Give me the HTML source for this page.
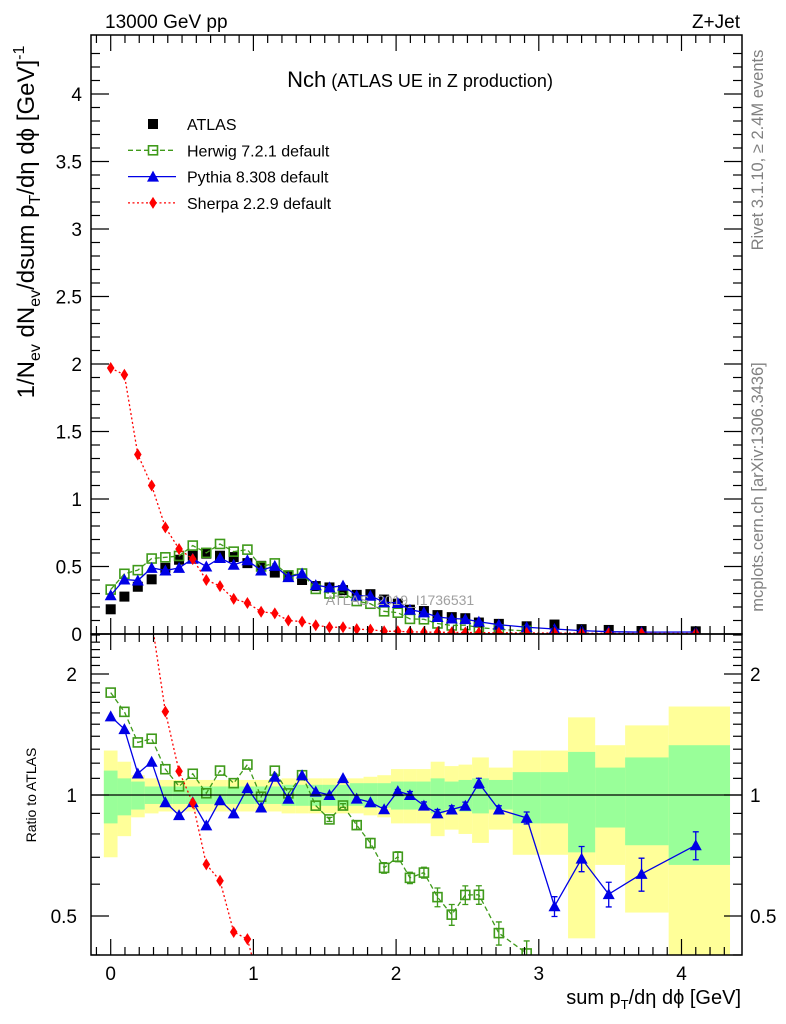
<!DOCTYPE html>
<html><head><meta charset="utf-8">
<style>
html,body{margin:0;padding:0;background:#fff;width:786px;height:1024px;overflow:hidden;}
svg{display:block;font-family:"Liberation Sans",sans-serif;}
</style></head>
<body>
<svg id="chart" width="786" height="1024" viewBox="0 0 786 1024" xmlns="http://www.w3.org/2000/svg">
<defs>
<clipPath id="clipMain"><rect x="91" y="35" width="651" height="599"/></clipPath>
<clipPath id="clipRatio"><rect x="91" y="634" width="651" height="321"/></clipPath>
</defs>
<g id="bands" clip-path="url(#clipRatio)"></g>
<g id="marks"></g>
<g id="axes"></g>
<text x="105" y="28" font-size="19">13000 GeV pp</text>
<text x="740" y="28" font-size="19" text-anchor="end">Z+Jet</text>
<text x="420" y="87" text-anchor="middle"><tspan font-size="22">Nch</tspan><tspan font-size="18"> (ATLAS UE in Z production)</tspan></text>
<text x="400" y="605" font-size="14" fill="#a0a0a0" text-anchor="middle">ATLAS_2019_I1736531</text>
<text transform="translate(763,150) rotate(-90)" font-size="16.5" fill="#808080" text-anchor="middle">Rivet 3.1.10, ≥ 2.4M events</text>
<text transform="translate(763,487) rotate(-90)" font-size="16.5" fill="#808080" text-anchor="middle">mcplots.cern.ch [arXiv:1306.3436]</text>
<text transform="translate(34,222) rotate(-90)" font-size="24" text-anchor="middle">1/N<tspan font-size="16" dy="6">ev</tspan><tspan dy="-6"> dN</tspan><tspan font-size="16" dy="6">ev</tspan><tspan dy="-6">/dsum p</tspan><tspan font-size="16" dy="6">T</tspan><tspan dy="-6">/dη dϕ  [GeV]</tspan><tspan font-size="16" dy="-10">-1</tspan></text>
<text transform="translate(36,795) rotate(-90)" font-size="14" text-anchor="middle">Ratio to ATLAS</text>
<text x="741" y="1004" font-size="20" text-anchor="end">sum p<tspan font-size="13" dy="5">T</tspan><tspan dy="-5">/dη dϕ [GeV]</tspan></text>
<g id="legend"></g>
</svg>
<script>
const xVals=[0,0.096,0.19,0.287,0.383,0.479,0.575,0.67,0.766,0.862,0.958,1.054,1.15,1.245,1.341,1.437,1.533,1.628,1.724,1.82,1.916,2.012,2.097,2.195,2.29,2.39,2.485,2.58,2.72,2.915,3.11,3.30,3.49,3.72,4.10];
const atlasVals=[0.183,0.277,0.35,0.405,0.49,0.55,0.58,0.595,0.58,0.57,0.525,0.505,0.455,0.43,0.40,0.355,0.345,0.325,0.29,0.295,0.255,0.225,0.18,0.17,0.14,0.125,0.117,0.085,0.075,0.057,0.07,0.036,0.03,0.022,0.02];
const herwigVals=[0.329,0.446,0.473,0.559,0.568,0.578,0.655,0.601,0.667,0.61,0.625,0.50,0.523,0.434,0.448,0.334,0.30,0.306,0.244,0.224,0.168,0.158,0.112,0.109,0.078,0.063,0.066,0.048,0.034,0.023];
const pythiaVals=[0.287,0.404,0.396,0.49,0.47,0.49,0.557,0.50,0.563,0.513,0.546,0.47,0.505,0.421,0.448,0.362,0.345,0.358,0.284,0.283,0.235,0.23,0.18,0.16,0.126,0.115,0.11,0.091,0.069,0.05,0.037,0.025,0.017,0.014,0.015];
const sherpaVals=[1.97,1.92,1.33,1.10,0.79,0.63,0.555,0.40,0.355,0.26,0.23,0.165,0.153,0.10,0.092,0.065,0.05,0.05,0.036,0.032,0.02,0.02,0.016,0.014,0.013,0.012,0.011,0.01,0.009,0.008,0.007,0.006,0.005,0.004,0.004];
const pythiaErr=[0,0,0,0,0,0,0,0,0,0,0,0,0,0,0,0,0,0,0,0,0.01,0.01,0.02,0.02,0.02,0.02,0.02,0.03,0.02,0.03,0.03,0.05,0.04,0.06,0.06];
const herwigErr=[0,0,0,0,0,0,0,0,0,0,0,0,0,0,0,0,0.01,0.01,0.02,0.02,0.02,0.02,0.02,0.02,0.03,0.03,0.03,0.03,0.03,0.03];
const yelLo=[0.70,0.79,0.88,0.90,0.91,0.91,0.91,0.91,0.91,0.91,0.91,0.91,0.91,0.90,0.90,0.90,0.90,0.90,0.90,0.89,0.88,0.85,0.85,0.85,0.79,0.82,0.80,0.76,0.82,0.71,0.71,0.44,0.67,0.51,0.30];
const yelHi=[1.29,1.21,1.12,1.10,1.09,1.09,1.09,1.09,1.09,1.09,1.09,1.09,1.09,1.10,1.10,1.10,1.10,1.10,1.10,1.11,1.12,1.16,1.16,1.16,1.21,1.18,1.19,1.24,1.17,1.29,1.29,1.56,1.33,1.49,1.66];
const grnLo=[0.85,0.89,0.92,0.95,0.95,0.95,0.95,0.95,0.95,0.95,0.95,0.95,0.95,0.94,0.94,0.94,0.94,0.94,0.94,0.93,0.93,0.92,0.92,0.92,0.90,0.92,0.91,0.90,0.92,0.85,0.85,0.72,0.83,0.75,0.67];
const grnHi=[1.15,1.10,1.08,1.05,1.05,1.05,1.05,1.05,1.05,1.05,1.05,1.05,1.05,1.06,1.06,1.06,1.06,1.06,1.07,1.07,1.07,1.08,1.08,1.08,1.10,1.08,1.09,1.10,1.09,1.14,1.14,1.28,1.17,1.24,1.33];
const mainTicks=["0","0.5","1","1.5","2","2.5","3","3.5","4"];
const xTicks=["0","1","2","3","4"];
const ratioTicks=["0.5","1","2"];

const NS="http://www.w3.org/2000/svg";
const L=91,R=742,T=35,MB=634,RB=955;
function X(v){return 110.7+v*142.7;}
function YM(v){return 634-v*135;}
function YR(r){return 795-Math.log10(r)*402;}
function mk(tag,attrs,parent){const e=document.createElementNS(NS,tag);for(const k in attrs)e.setAttribute(k,attrs[k]);parent.appendChild(e);return e;}
const bands=document.getElementById('bands'),marks=document.getElementById('marks'),axes=document.getElementById('axes'),legend=document.getElementById('legend');

function edges(i){const l=i===0?xVals[0]-0.048:(xVals[i-1]+xVals[i])/2;const r=i===xVals.length-1?4.34:(xVals[i]+xVals[i+1])/2;return [X(l),X(r)];}
function clampY(y){return Math.max(600,Math.min(990,y));}
for(let i=0;i<xVals.length;i++){const [a,b]=edges(i);
 const y1=clampY(YR(yelHi[i])),y2=clampY(YR(yelLo[i]));
 const y=mk('rect',{x:a,y:y1,width:b-a,height:y2-y1,fill:'#ffff99'},bands);
 
 
}
for(let i=0;i<xVals.length;i++){const [a,b]=edges(i);
 const y1=clampY(YR(grnHi[i])),y2=clampY(YR(grnLo[i]));
 const g=mk('rect',{x:a,y:y1,width:b-a,height:y2-y1,fill:'#99ff99'},bands);
 
 
}
const one=mk('line',{x1:L,x2:R,y1:YR(1),y2:YR(1),stroke:'#000','stroke-width':1.3},axes);



function marker(type,cx,cy,color,parent,name){let e;
 if(type==='sq'){e=mk('rect',{x:cx-5,y:cy-5,width:10,height:10,fill:'#000'},parent);}
 else if(type==='osq'){e=mk('rect',{x:cx-4.5,y:cy-4.5,width:9,height:9,fill:'none',stroke:color,'stroke-width':1.6},parent);}
 else if(type==='tri'){e=mk('polygon',{points:`${cx},${cy-6} ${cx+6},${cy+5} ${cx-6},${cy+5}`,fill:color},parent);}
 else {e=mk('polygon',{points:`${cx},${cy-6} ${cx+3.8},${cy} ${cx},${cy+6} ${cx-3.8},${cy}`,fill:color},parent);}
 
 
 return e;}

const gMain=mk('g',{'clip-path':'url(#clipMain)'},marks);


const gRatio=mk('g',{'clip-path':'url(#clipRatio)'},marks);



for(let i=0;i<atlasVals.length;i++){marker('sq',X(xVals[i]),YM(atlasVals[i]),'#000',gMain,'atlas-point');}
const series=[
 {vals:herwigVals,err:herwigErr,color:'#3f9a1a',type:'osq',dash:'5,3',name:'herwig'},
 {vals:pythiaVals,err:pythiaErr,color:'#0000e6',type:'tri',dash:'',name:'pythia'},
 {vals:sherpaVals,err:null,color:'#ff0000',type:'dia',dash:'2,2.5',name:'sherpa'}];
for(const s of series){
 const mp=s.vals.map((v,i)=>X(xVals[i])+','+YM(v)).join(' ');
 const ml=mk('polyline',{points:mp,fill:'none',stroke:s.color,'stroke-width':1.3,'stroke-dasharray':s.dash},gMain);
 
 
 const rpts=[];
 for(let i=0;i<s.vals.length;i++){const r=s.vals[i]/atlasVals[i];rpts.push(X(xVals[i])+','+YR(r));if(YR(r)>RB)break;}
 const rl=mk('polyline',{points:rpts.join(' '),fill:'none',stroke:s.color,'stroke-width':1.3,'stroke-dasharray':s.dash},gRatio);
 
 
 s.vals.forEach((v,i)=>{
  const cx=X(xVals[i]);const r=v/atlasVals[i];
  const ry=YR(r);
  if(s.err&&s.err[i]>0&&ry<RB){const e=s.err[i];
   const eb=mk('path',{d:`M${cx},${YR(r+e)}V${YR(r-e)}M${cx-3},${YR(r+e)}h6M${cx-3},${YR(r-e)}h6`,stroke:s.color,'stroke-width':1.3,fill:'none'},gRatio);
   
   }
  marker(s.type,cx,YM(v),s.color,gMain,s.name+'-point');
  if(ry>MB-10&&ry<RB+10)marker(s.type,cx,ry,s.color,gRatio,s.name+'-ratio-point');
 });
}

for(const [t,b,n] of [[T,MB,'main-frame'],[MB,RB,'ratio-frame']]){
 const f=mk('rect',{x:L,y:t,width:R-L,height:b-t,fill:'none',stroke:'#000','stroke-width':1.5},axes);
 
 }
function tick(x1,y1,x2,y2){mk('line',{x1,y1,x2,y2,stroke:'#000','stroke-width':1.2},axes);}
for(let k=-1;k<=43;k++){const v=k/10,px=X(v);if(px<L||px>R)continue;const major=k%10===0;const len=major?16:8;
 tick(px,T,px,T+len);tick(px,MB,px,MB-len);tick(px,MB,px,MB+len);tick(px,RB,px,RB-len);}
xTicks.forEach(t=>{const e=mk('text',{x:X(+t),y:980,'font-size':19,'text-anchor':'middle'},axes);e.textContent=t;
 
 });
for(let k=0;k<=43;k++){const py=YM(k/10);const major=k%5===0;const len=major?18:9;tick(L,py,L+len,py);tick(R,py,R-len,py);}
mainTicks.forEach(t=>{const e=mk('text',{x:82,y:YM(+t)+7,'font-size':19,'text-anchor':'end'},axes);e.textContent=t;
 
 });
const minors=[0.4,0.5,0.6,0.7,0.8,0.9,1,1.1,1.2,1.3,1.4,1.5,1.6,1.7,1.8,1.9,2,2.1,2.2,2.3,2.4,2.5];
minors.forEach(r=>{const py=YR(r);if(py<MB||py>RB)return;const major=(r===0.5||r===1||r===2);const len=major?18:9;tick(L,py,L+len,py);tick(R,py,R-len,py);});
ratioTicks.forEach(t=>{
 const e=mk('text',{x:77,y:YR(+t)+7,'font-size':19,'text-anchor':'end'},axes);e.textContent=t;
 
 
 const e2=mk('text',{x:750,y:YR(+t)+7,'font-size':19},axes);e2.textContent=t;
 
 });

const leg=[['ATLAS','#000','sq',''],['Herwig 7.2.1 default','#3f9a1a','osq','5,3'],['Pythia 8.308 default','#0000e6','tri',''],['Sherpa 2.2.9 default','#ff0000','dia','2,2.5']];
leg.forEach((l,i)=>{const y=124+i*26.3;
 const g=mk('g',{},legend);
 
 
 if(i>0)mk('line',{x1:128,x2:176,y1:y,y2:y,stroke:l[1],'stroke-width':1.3,'stroke-dasharray':l[3]},g);
 marker(l[2],153,y,l[1],g,'legend-marker');
 const t=mk('text',{x:187,y:y+6,'font-size':16},g);t.textContent=l[0];});
</script>
</body></html>
